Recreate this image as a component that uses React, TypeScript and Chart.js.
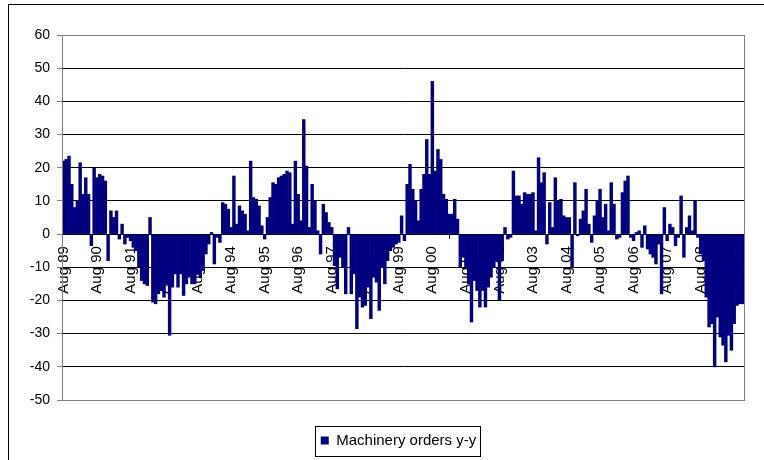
import React, { useEffect, useRef } from 'react';
import { Chart, registerables } from 'chart.js';

Chart.register(...registerables);

const FONT = '"Liberation Sans", Arial, sans-serif';

const SERIES_LABEL = 'Machinery orders y-y';
const START_YEAR = 1989;
const START_MONTH = 7; // August (0-based)
const MONTH_NAMES = ['Jan', 'Feb', 'Mar', 'Apr', 'May', 'Jun', 'Jul', 'Aug', 'Sep', 'Oct', 'Nov', 'Dec'];

const TICK_LABELS = [
  'Aug 89', 'Aug 90', 'Aug 91', 'Aug 92', 'Aug 93', 'Aug 94', 'Aug 95', 'Aug 96', 'Aug 97', 'Aug 98',
  'Aug 99', 'Aug 00', 'Aug 01', 'Aug 02', 'Aug 03', 'Aug 04', 'Aug 05', 'Aug 06', 'Aug 07', 'Aug 08', 'Aug 09',
];

const Y_MIN = -50;
const Y_MAX = 60;
const Y_STEP = 10;

// Monthly year-on-year values, Aug 1989 onwards
const ordersYoY = [
  22, 22.5, 23.5, 15, 8, 10, 21.5, 12, 17, 12, -3.5, 20,
  17, 18, 17.5, 16, -8, 7, 5, 7, -1.5, 3, -3, -1,
  -2, -4, -5, -10, -14, -15, -15.5, 5, -20.5, -21, -18, -17,
  -19, -15, -30.5, -16, -12, -16, -12, -18.5, -15, -13, -15, -15,
  -12, -13, -11, -6, -3, 0.5, -9, -1, -2.5, 9.5, 9, 7.5,
  2, 17.5, 3, 8.5, 7, 6, 1, 22, 11, 10.5, 8.5, 2.5,
  -1.5, 5, 11, 15.5, 15, 17, 17.5, 18, 19, 18.5, 3, 22,
  12, 4, 34.5, 20.5, 2, 15, 10, 1, -6, 9, 6.5, 3.5,
  2, -9.5, -16.5, -7, -10, -18, 2, -18, -12, -28.5, -19, -22,
  -21.5, -16, -25.5, -13, -14.5, -23, -10, -15, -8, -5, -4, -3,
  -2.5, 5.5, -2, 15, 21, 13.5, 10, 4, 13.5, 18, 28.5, 18,
  46, 19, 25.5, 22.5, 12, 10.5, 6, 6, 10.5, 4.5, -10, -7,
  -10, -15, -26.5, -14, -17, -22, -17, -22, -16, -13, -10, -8,
  -20, -8, 2, -1.5, -1, 19, 11.5, 11.5, 9, 12.5, 12, 12,
  12.5, 1, 23, 15.5, 18.5, -3, 9.5, 2, 17, 10, 10.5, 5.5,
  5, 5, -10, 15.5, -0.5, 4.5, 7, 13.5, 3, -2.5, 5.5, 10,
  13.5, 5, 9, 1, 15.5, 9, -1.5, -1, 12.5, 16, 17.5, -1,
  -2, 0.5, 1, -4, 2.5, -4.5, -6, -7, -9, -3, -18, 8,
  -2, 3, 2, -3.5, -1, 11.5, -7, 2, 5.5, 1, 10, -1,
  -6, -8, -19, -28, -27, -40, -25, -31, -33.5, -38.5, -30.5, -35,
  -27, -21.5, -21, -21,
];

const categories = ordersYoY.map((_, i) => {
  const m = (START_MONTH + i) % 12;
  const y = START_YEAR + Math.floor((START_MONTH + i) / 12);
  return `${MONTH_NAMES[m]} ${String(y % 100).padStart(2, '0')}`;
});

const framePlugin = {
  id: 'frame',
  afterLayout(chart: any) {
    const lg = chart.legend;
    if (lg) {
      lg.left += 22;
      lg.right += 22;
    }
  },
  afterDraw(chart: any) {
    const { ctx, chartArea: a } = chart;
    ctx.save();
    ctx.lineWidth = 1;
    ctx.strokeStyle = '#808080';
    ctx.strokeRect(Math.round(a.left) + 0.5, Math.round(a.top) + 0.5, Math.round(a.right - a.left), Math.round(a.bottom - a.top));
    const lg = chart.legend;
    if (lg && lg.legendHitBoxes && lg.legendHitBoxes[0]) {
      const hb = lg.legendHitBoxes[0];
      const cy = hb.top + hb.height / 2;
      ctx.strokeStyle = '#000';
      ctx.strokeRect(Math.round(hb.left - 6) + 0.5, Math.round(cy - 15) + 0.5, Math.round(hb.width + 9), 30);
    }
    ctx.restore();
  },
};

export default function App() {
  const ref = useRef<HTMLCanvasElement>(null);

  useEffect(() => {
    if (!ref.current) return;
    const chart = new Chart(ref.current, {
      type: 'bar',
      data: {
        labels: categories,
        datasets: [
          {
            label: SERIES_LABEL,
            data: ordersYoY,
            backgroundColor: '#000080',
            borderColor: '#000080',
            borderWidth: 0,
            barPercentage: 1,
            categoryPercentage: 1,
          },
        ],
      },
      options: {
        responsive: false,
        animation: false,
        devicePixelRatio: 1,
        layout: { padding: { left: 0, right: 42, top: 30, bottom: 2 } },
        plugins: {
          tooltip: { enabled: false },
          legend: {
            position: 'bottom',
            labels: {
              boxWidth: 8,
              boxHeight: 8,
              padding: 33,
              color: '#000',
              font: { family: FONT, size: 15 },
            },
          },
        },
        scales: {
          x: {
            type: 'category',
            position: { y: 0 } as any,
            offset: true,
            z: 1,
            border: { display: true, color: '#000', width: 1 },
            grid: {
              display: true,
              drawOnChartArea: false,
              drawTicks: true,
              tickLength: 4,
              color: (c: any) => (c.index % 12 === 0 ? '#000' : 'rgba(0,0,0,0)'),
            },
            ticks: {
              autoSkip: false,
              maxRotation: 90,
              minRotation: 90,
              padding: 8,
              color: '#000',
              font: { family: FONT, size: 15 },
              callback: (_v: any, i: number) => (i % 12 === 0 ? TICK_LABELS[i / 12] : null),
            },
          },
          y: {
            type: 'linear',
            min: Y_MIN,
            max: Y_MAX,
            afterFit: (s: any) => {
              s.width = 53;
            },
            border: { display: true, color: '#808080', width: 1 },
            grid: {
              color: (c: any) => (c.tick && (c.tick.value === Y_MAX || c.tick.value === Y_MIN) ? '#808080' : '#000'),
              tickColor: '#808080',
              tickLength: 5,
            },
            ticks: {
              stepSize: Y_STEP,
              padding: 7,
              color: '#000',
              font: { family: FONT, size: 14 },
            },
          },
        },
      },
      plugins: [framePlugin],
    } as any);
    return () => chart.destroy();
  }, []);

  return (
    <div style={{ position: 'fixed', left: 0, top: 0, width: 764, height: 460, overflow: 'hidden', background: '#fff' }}>
      <div
        style={{
          position: 'absolute',
          left: 8,
          top: 4,
          width: 820,
          height: 520,
          border: '1px solid #000',
          boxSizing: 'border-box',
        }}
      >
        <canvas ref={ref} width={777} height={455} style={{ position: 'absolute', left: 0, top: 0, width: 777, height: 455 }} />
      </div>
    </div>
  );
}
